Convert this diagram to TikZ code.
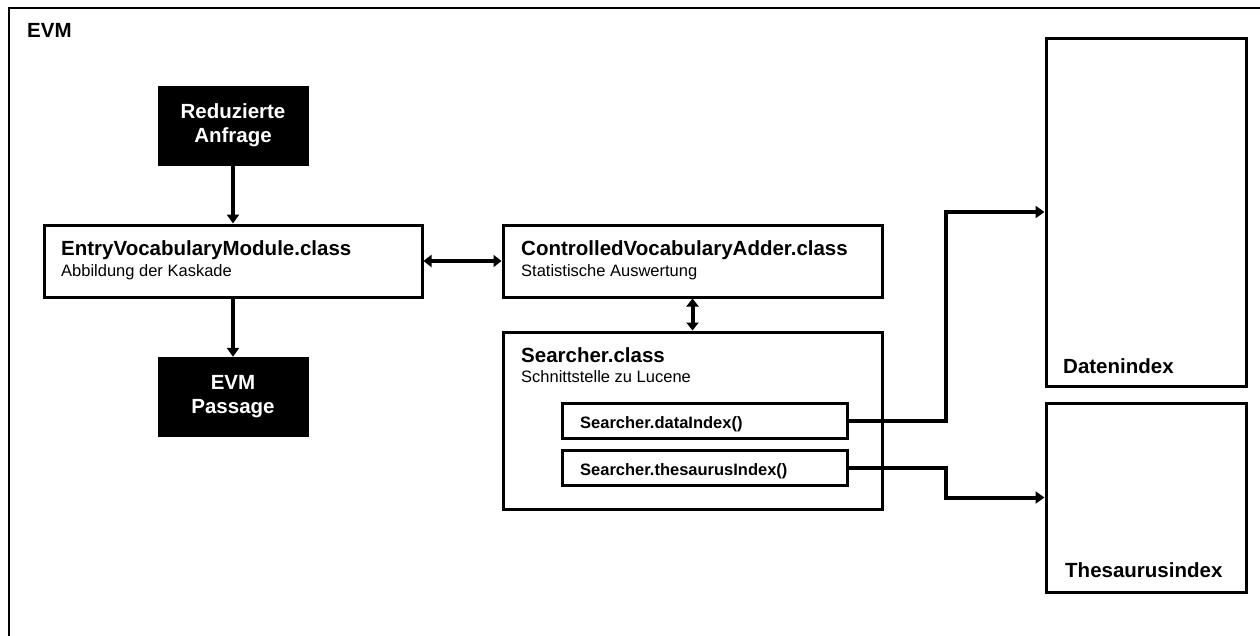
\documentclass[tikz,border=0pt]{standalone}
\usepackage{fontspec}
\setmainfont{Liberation Sans}
\usetikzlibrary{arrows.meta}
\begin{document}
\begin{tikzpicture}[x=1pt,y=-1pt,
  box/.style={draw, line width=3pt, inner sep=0pt, fill=white},
  blk/.style={fill=black, draw=black, text=white, inner sep=0pt, align=center, font=\fontsize{20.5}{24}\selectfont\bfseries},
  ttl/.style={anchor=base west, inner sep=0pt, font=\fontsize{20.5}{24}\selectfont\bfseries},
  sub/.style={anchor=base west, inner sep=0pt, font=\fontsize{16.5}{20}\selectfont},
  mth/.style={anchor=base west, inner sep=0pt, font=\fontsize{16.5}{20}\selectfont\bfseries},
  conn/.style={line width=4pt, -{Triangle[length=9pt,width=12pt]}},
  dconn/.style={line width=4pt, {Triangle[length=8pt,width=12pt]}-{Triangle[length=8pt,width=12pt]}},
]
\useasboundingbox (0,0) rectangle (1260,635);
% outer frame
\coordinate (fbl) at (9,640);
\coordinate (ftl) at (9,8);
\coordinate (ftr) at (1265,8);
\draw[line width=2.2pt] (fbl) -- (ftl) -- (ftr);
\node[ttl] (evmlbl) at (27,37) {EVM};

% boxes
\node[blk, minimum width=150, minimum height=79] (red) at (233,125.5) {Reduzierte\\Anfrage};
\node[blk, minimum width=150, minimum height=79] (pas) at (233,396.5) {EVM\\Passage};

\node[box, minimum width=378, minimum height=72] (evm) at (233,261) {};
\node[ttl] (evmt) at (61,255) {EntryVocabularyModule.class};
\node[sub] (evms) at (61,276) {Abbildung der Kaskade};

\node[box, minimum width=379, minimum height=72] (cva) at (692.5,261) {};
\node[ttl] (cvat) at (521,255) {ControlledVocabularyAdder.class};
\node[sub] (cvas) at (521,276) {Statistische Auswertung};

\node[box, minimum width=379, minimum height=177] (srch) at (692.5,420.5) {};
\node[ttl] (srcht) at (521,362) {Searcher.class};
\node[sub] (srchs) at (521,382) {Schnittstelle zu Lucene};

\node[box, minimum width=285, minimum height=35] (dix) at (704.5,420.5) {};
\node[mth] (dixt) at (580,428) {Searcher.dataIndex()};
\node[box, minimum width=285, minimum height=35] (tix) at (704.5,467.5) {};
\node[mth] (tixt) at (580,475) {Searcher.thesaurusIndex()};

\node[box, minimum width=200, minimum height=348] (dat) at (1146,212) {};
\node[ttl] (datt) at (1063,373) {Datenindex};
\node[box, minimum width=200, minimum height=189] (the) at (1146,497.5) {};
\node[ttl] (thet) at (1065,577) {Thesaurusindex};

% connectors
\coordinate (jx) at (946,0);
\draw[conn] (red) -- (evm);
\draw[conn] (evm) -- (pas);
\draw[dconn] (evm) -- (cva);
\draw[dconn] (cva) -- (srch);
\draw[conn] (dix.east) -- (dix.east -| jx) -- (jx |- dat.west) -- (dat.west);
\draw[conn] (tix.east) -- (tix.east -| jx) -- (jx |- the.west) -- (the.west);
\end{tikzpicture}
\end{document}
